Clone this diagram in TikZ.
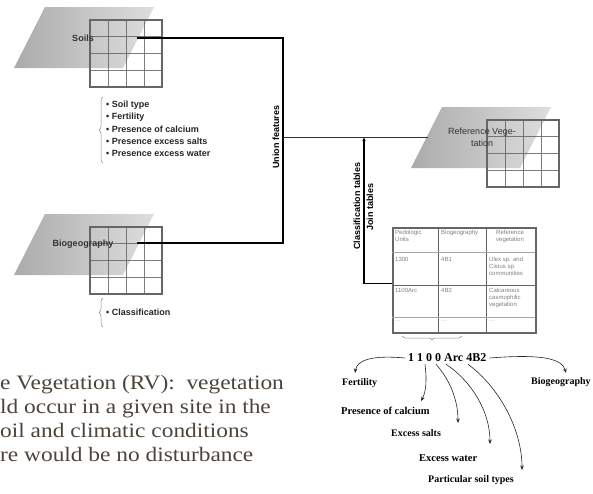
\documentclass[tikz,border=0pt]{standalone}
\usepackage{fontspec}
\setmainfont{Liberation Serif}
\setsansfont{Liberation Sans}
\newfontfamily\paraserif[FakeStretch=1.14]{Liberation Serif}
\usetikzlibrary{decorations.pathreplacing,arrows.meta,calc}
\definecolor{parabrown}{HTML}{4C443B}
\definecolor{gridgray}{HTML}{666666}

\begin{document}
\begin{tikzpicture}[x=1pt,y=-1pt,
	layerlabel/.style={font=\sffamily\bfseries\fontsize{9}{10}\selectfont,text=black!80,inner sep=1pt},
	featurelist/.style={font=\sffamily\bfseries\fontsize{9}{12.3}\selectfont,text=black!85,align=left,anchor=base west,inner sep=0pt},
	sidelabel/.style={font=\sffamily\bfseries\fontsize{9}{10}\selectfont,rotate=90,inner sep=1pt},
	tabletext/.style={font=\sffamily\fontsize{6}{7}\selectfont,text=black!50,align=left,anchor=north west,inner sep=0pt},
	codelabel/.style={font=\bfseries\fontsize{10}{12}\selectfont,anchor=west,inner sep=0pt},
	paraline/.style={font=\paraserif\fontsize{20.5}{24}\selectfont,text=parabrown,anchor=base west,inner sep=0pt},
	link/.style={line width=1.4pt},
	codearrow/.style={line width=0.6pt,black!85,-{Stealth[length=4.5pt,width=3.5pt]}},
	bracegray/.style={black!45,line width=0.5pt,decorate,decoration={brace,amplitude=4pt}},
	layer/.pic={
		\fill[white] (0,0) rectangle (72,67);
		\shade[left color=black!33,right color=black!13]
			(-45,-13) -- (64,-13) -- (33,48) -- (-76,48) -- cycle;
		\foreach \k in {1,2,3} {
			\draw[gridgray,line width=0.9pt,draw opacity=0.85] (18*\k,0) -- (18*\k,67);
			\draw[gridgray,line width=0.9pt,draw opacity=0.85] (0,16.75*\k) -- (72,16.75*\k);
		}
		\draw[gridgray,line width=1.4pt] (0,0) rectangle (72,67);
	}]

	\fill[white] (0,0) rectangle (593,493);
	\useasboundingbox (0,0) rectangle (593,493);

	\pic (soils) at (90,20) {layer};
	\pic (biog) at (90,227) {layer};
	\pic (refveg) at (487,120) {layer};

	\node[layerlabel] (soilsLabel) at (83,38) {Soils};
	\node[layerlabel] (biogLabel) at (83,244) {Biogeography};
	\node[layerlabel,font=\sffamily\fontsize{9}{12}\selectfont,align=center] (refvegLabel) at (482,137) {Reference Vege-\\tation};

	\coordinate (soilsOut) at (137,38);
	\coordinate (biogOut) at (137,243);
	\coordinate (unionTop) at (283,38);
	\coordinate (unionBot) at (283,243);
	\coordinate (unionMid) at (283,137);
	\coordinate (refvegIn) at (428,137);
	\coordinate (joinPt) at (364,137);

	\draw[link] (soilsOut) -- (unionTop) -- (unionBot) -- (biogOut);
	\draw[line width=1pt,black!80] (unionMid) -- (refvegIn);

	\node[sidelabel] (unionLabel) at (276,137) {Union features};
	\node[sidelabel] (classLabel) at (357,206) {Classification tables};
	\node[sidelabel] (joinLabel) at (370,207) {Join tables};

	% soils attributes
	\node[featurelist] (soilsList) at (106,156.7) {\textbullet\ Soil type\\\textbullet\ Fertility\\\textbullet\ Presence of calcium\\\textbullet\ Presence excess salts\\\textbullet\ Presence excess water};
	\draw[bracegray] (103,163) -- (103,97);
	\node[featurelist] (biogList) at (106,315.5) {\textbullet\ Classification};
	\draw[bracegray] (103,327) -- (103,298);

	% table
	\node[draw=black!60,line width=1.5pt,minimum width=143pt,minimum height=105pt,anchor=north west,inner sep=0pt] (tab) at (392,227) {};
	\draw[black!60,line width=1pt] (438,227) -- (438,332) (486,227) -- (486,332);
	\draw[black!35,line width=0.6pt] (392,252) -- (535,252) (392,317) -- (535,317);
	\draw[black!60,line width=1pt] (392,285) -- (535,285);
	\node[tabletext] (h1) at (395,230) {Pedologic\\Units};
	\node[tabletext] (h2) at (441,230) {Biogeography};
	\node[tabletext,align=center,anchor=north] (h3) at (510,230) {Reference\\vegetation};
	\node[tabletext] (r1a) at (395,257) {1300};
	\node[tabletext] (r1b) at (441,257) {4B1};
	\node[tabletext] (r1c) at (489,257) {Ulex sp. and\\Cistus sp.\\communities};
	\node[tabletext] (r2a) at (395,288) {1100Arc};
	\node[tabletext] (r2b) at (441,288) {4B2};
	\node[tabletext] (r2c) at (489,288) {Calcareous\\casmophilic\\vegetation};
	\node[tabletext,text=black!30] (r3a) at (395,320) {...};
	\node[tabletext,text=black!30] (r3b) at (441,320) {...};
	\node[tabletext,text=black!30] (r3c) at (489,320) {...};
	\draw[bracegray] (462,336) -- (402,336);

	\draw[link,-{Latex[length=4pt,width=3.5pt]}] ([yshift=-3.5pt]tab.west) -- ([yshift=-3.5pt]tab.west -| joinPt) -- (joinPt);

	% code
	\node[codelabel,font=\bfseries\fontsize{12}{14}\selectfont] (code) at (408,358) {1 1 0 0 Arc 4B2};
	\node[codelabel] (fert) at (342,383) {Fertility};
	\node[codelabel,font=\bfseries\fontsize{10.5}{12}\selectfont] (calc) at (341,411) {Presence of calcium};
	\node[codelabel] (salts) at (391,433) {Excess salts};
	\node[codelabel,font=\bfseries\fontsize{10.5}{12}\selectfont] (water) at (419,458) {Excess water};
	\node[codelabel] (partic) at (428,480) {Particular soil types};
	\node[codelabel] (biogCode) at (531,382) {Biogeography};

	\coordinate (fertTip) at (355,373);
	\coordinate (calcTip) at (421,401);
	\coordinate (saltsTip) at (458,423);
	\coordinate (waterTip) at (490,444);
	\coordinate (particTip) at (522,470);
	\coordinate (biogTip) at (566,373);

	\draw[codearrow] ([xshift=-3pt]code.west) .. controls (372,355) and (357,360) .. (fertTip);
	\draw[codearrow] ([xshift=17pt,yshift=-2pt]code.south west) .. controls (427,380) and (426,392) .. (calcTip);
	\draw[codearrow] ([xshift=28pt,yshift=-2pt]code.south west) .. controls (450,380) and (458,400) .. (saltsTip);
	\draw[codearrow] ([xshift=38pt,yshift=-2pt]code.south west) .. controls (470,380) and (490,410) .. (waterTip);
	\draw[codearrow] ([xshift=60pt,yshift=-2pt]code.south west) .. controls (500,388) and (522,430) .. (particTip);
	\draw[codearrow] ([xshift=3pt]code.east) .. controls (540,354) and (562,358) .. (biogTip);

	% left text
	\node[paraline] (para1) at (0,389) {e Vegetation (RV):~ vegetation};
	\node[paraline] (para2) at (0,413) {ld occur in a given site in the};
	\node[paraline] (para3) at (0,437) {oil and climatic conditions};
	\node[paraline] (para4) at (0,461) {re would be no disturbance};
\end{tikzpicture}
\end{document}
